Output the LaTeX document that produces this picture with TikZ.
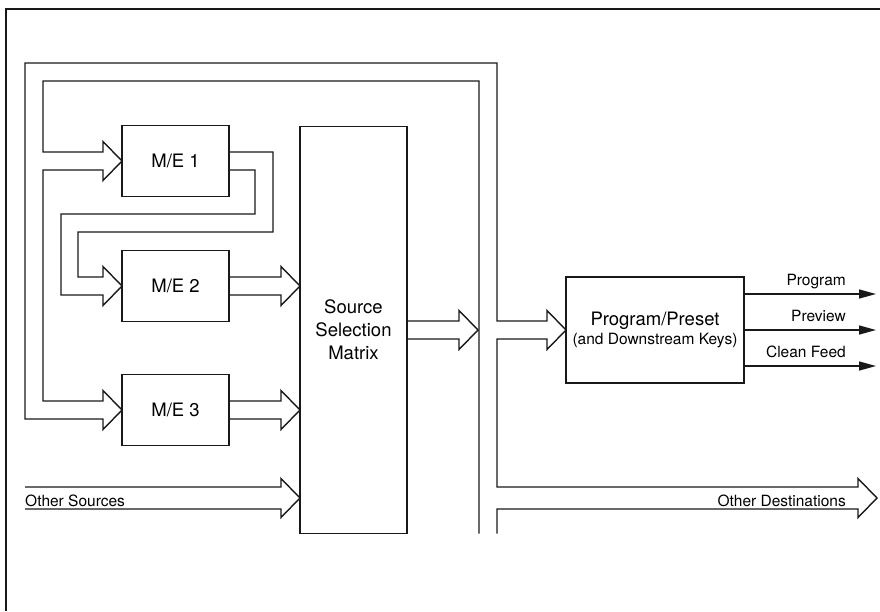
\documentclass[tikz,border=0pt]{standalone}
\usepackage{fontspec}
\setmainfont{TeX Gyre Heros}
\usetikzlibrary{arrows.meta,positioning,calc}
\tikzset{
  mebox/.style={draw=black!90,line width=1.4pt,minimum width=107pt,
    minimum height=71pt,inner sep=0pt,outer sep=0pt,align=center,
    font=\fontsize{18.5}{22}\selectfont},
  selbox/.style={mebox,minimum height=407pt,font=\fontsize{18.5}{23}\selectfont},
  ppbox/.style={mebox,minimum width=178pt,minimum height=106pt},
  wire/.style={draw=black!90,line width=1.4pt},
  feed/.style={wire,-{Triangle[length=17pt,width=9pt]}},
  lbl/.style={inner sep=0pt,font=\fontsize{15.5}{19}\selectfont},
  fatarrow/.style={to path={($(\tikztostart)+(0,-#1)$) -- ($(\tikztotarget)+(-19,-#1)$)
    -- ($(\tikztotarget)+(-19,-19.5)$) -- (\tikztotarget) -- ($(\tikztotarget)+(-19,19.5)$)
    -- ($(\tikztotarget)+(-19,#1)$) -- ($(\tikztostart)+(0,#1)$)}},
  fatarrow/.default=9,
  headin/.style={to path={-- ($(\tikztotarget)+(-19,-#1)$) -- ($(\tikztotarget)+(-19,-19.5)$)
    -- (\tikztotarget) -- ($(\tikztotarget)+(-19,19.5)$) -- ($(\tikztotarget)+(-19,#1)$)}},
  headin/.default=9
}
\begin{document}
\begin{tikzpicture}[x=1pt,y=-1pt,line join=miter]
\useasboundingbox (0,0) rectangle (880,611);
\node[mebox] (me1) at (175.5,161) {M/E 1};
\node[mebox,below=54pt of me1] (me2) {M/E 2};
\node[mebox,below=53pt of me2] (me3) {M/E 3};
\node[selbox] (sel) at (353.5,330) {Source\\Selection\\Matrix};
\node[ppbox] (pp) at (655,330) {Program/Preset\\[-3pt]{\fontsize{15.5}{19}\selectfont(and Downstream Keys)}};
\coordinate (m2tip) at (sel.west |- me2.east);
\coordinate (m3tip) at (sel.west |- me3.east);
\coordinate (bustip) at (478,330);
\coordinate (srcstart) at (25,498);
\coordinate (srctip) at (sel.west |- srcstart);
\coordinate (dsttip) at (877,498);
\coordinate (pgmtip) at (876,294);
\coordinate (prvtip) at (876,330);
\coordinate (cfdtip) at (876,366);
\node[lbl,anchor=base west] (srclbl) at (25,506) {Other Sources};
\node[lbl,anchor=base east] (dstlbl) at (846,506) {Other Destinations};
\node[lbl,anchor=base east] (pgmlbl) at ($(pgmtip)+(-30,-8.5)$) {Program};
\node[lbl,anchor=base east] (prvlbl) at ($(prvtip)+(-30,-8.5)$) {Preview};
\node[lbl,anchor=base east] (cfdlbl) at ($(cfdtip)+(-30,-8.5)$) {Clean Feed};
\draw[wire] (880,9) -- (6,9) -- (6,611);
% the re-entry bus round the top
\draw[wire] (479,533.5) -- (479,81) -- (43,81) -- (43,152) to[headin] (me1.west)
  -- (43,170) -- (43,401) to[headin] (me3.west) -- (25,419) -- (25,63) -- (497,63)
  -- (497,321) to[headin] (pp.west) -- (497,339) -- (497,487) to[headin=11] (dsttip)
  -- (497,509) -- (497,533.5);
\draw[wire] ($(me1.east)+(0,-9)$) -- (273,152) -- (273,232) -- (78,232) -- (78,277)
  to[headin] (me2.west) -- (61,295) -- (61,214) -- (255,214) -- (255,170)
  -- ($(me1.east)+(0,9)$);
\draw[wire] (me2.east) to[fatarrow] (m2tip);
\draw[wire] (me3.east) to[fatarrow] (m3tip);
\draw[wire] (srcstart) to[fatarrow=11] (srctip);
\draw[wire] (sel.east) to[fatarrow] (bustip);
\draw[feed] (pp.east |- pgmtip) -- (pgmtip);
\draw[feed] (pp.east |- prvtip) -- (prvtip);
\draw[feed] (pp.east |- cfdtip) -- (cfdtip);
\end{tikzpicture}
\end{document}
